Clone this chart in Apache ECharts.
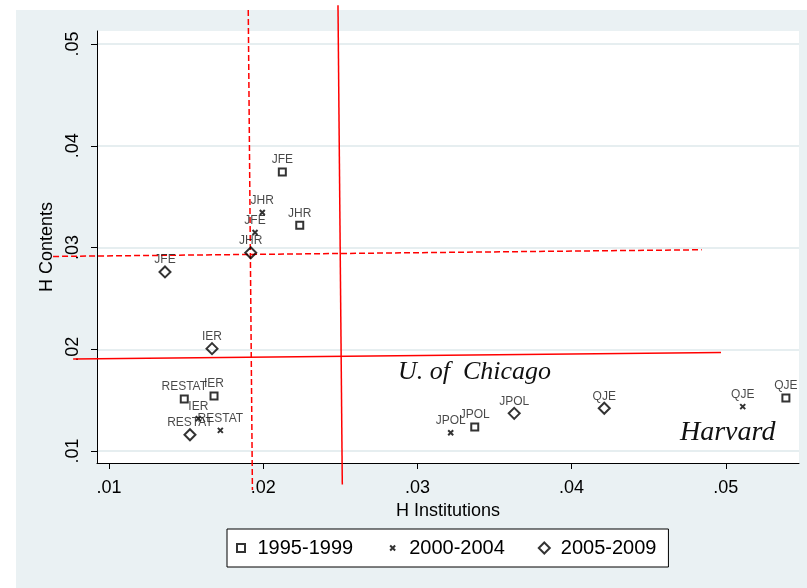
<!DOCTYPE html>
<html>
<head>
<meta charset="utf-8">
<script src="https://cdn.jsdelivr.net/npm/echarts/dist/echarts.min.js"></script>
<style>
  html, body { margin: 0; padding: 0; background: #fff; }
  #main { width: 807px; height: 588px; }
</style>
</head>
<body>
<div id="main"></div>
<script>
// journals, same order in every period
var journals = ['JFE', 'JHR', 'IER', 'RESTAT', 'JPOL', 'QJE'];

// H Institutions (x) and H Contents (y) per period
var hInst95 = [0.02124, 0.02237, 0.01681, 0.01488, 0.03372, 0.0539];
var hCont95 = [0.03741, 0.03219, 0.01541, 0.01511, 0.01236, 0.01521];
var hInst00 = [0.01947, 0.01994, 0.01579, 0.01722, 0.03216, 0.0511];
var hCont00 = [0.03147, 0.03344, 0.01318, 0.01203, 0.0118, 0.01436];
var hInst05 = [0.01363, 0.01919, 0.01668, 0.01525, 0.03628, 0.04212];
var hCont05 = [0.0276, 0.02948, 0.02006, 0.0116, 0.0137, 0.0142];

// reference lines (end points)
var instLine = [[0.02485, 0.0538], [0.02513, 0.0067]];
var contLine = [[0.00767, 0.01905], [0.04969, 0.01968]];
var instLineDash = [[0.01903, 0.05334], [0.0193, 0.00617]];
var contLineDash = [[0.00637, 0.02912], [0.04844, 0.02978]];

var xTicks = [0.01, 0.02, 0.03, 0.04, 0.05];
var yTicks = [0.01, 0.02, 0.03, 0.04, 0.05];
var periods = ['1995-1999', '2000-2004', '2005-2009'];

var FONT = '"Liberation Sans", Arial, Helvetica, sans-serif';

function pts(xs, ys) {
    return journals.map(function (j, i) {
        return { name: j, value: [xs[i], ys[i]] };
    });
}
function fmt(v) {
    return v.toFixed(2).replace(/^0/, '');
}
function seg(l, dashed) {
    return [l[0][0], l[0][1], l[1][0], l[1][1], dashed ? 1 : 0];
}

var pointLabel = {
    show: true,
    position: 'inside',
    offset: [0, -12],
    formatter: '{b}',
    fontFamily: FONT,
    fontSize: 12,
    color: '#1a1a1a'
};

var myChart = echarts.init(document.getElementById('main'));

var option = {
    animation: false,
    backgroundColor: '#eaf1f3',
    graphic: [
        { type: 'rect', shape: { x: 0, y: 0, width: 807, height: 10 }, style: { fill: '#fff' }, z: -1 },
        { type: 'rect', shape: { x: 0, y: 0, width: 16, height: 588 }, style: { fill: '#fff' }, z: -1 },
        {
            type: 'text', x: 398, y: 372, z: 5,
            style: { text: 'U. of  Chicago', font: 'italic 26px "Liberation Serif", "Times New Roman", serif', fill: '#111', verticalAlign: 'middle' }
        },
        {
            type: 'text', x: 680, y: 433, z: 5,
            style: { text: 'Harvard', font: 'italic 28px "Liberation Serif", "Times New Roman", serif', fill: '#111', verticalAlign: 'middle' }
        }
    ],
    grid: {
        left: 97, right: 8, top: 31, bottom: 125,
        show: true, backgroundColor: '#fff', borderWidth: 0
    },
    legend: {
        left: 227, top: 529,
        orient: 'horizontal',
        backgroundColor: '#fff',
        borderColor: '#000',
        borderWidth: 1,
        borderRadius: 0,
        padding: [9, 12, 9, 7.5],
        itemGap: 33,
        itemWidth: 17,
        itemHeight: 11,
        selectedMode: false,
        textStyle: { fontFamily: FONT, fontSize: 20, color: '#000' },
        data: [
            { name: periods[0], icon: 'path://M0,0M17,11M1.5,1.5H9.5V9.5H1.5Z' },
            { name: periods[1], icon: 'path://M0,0M17,11M3,3L8,8M8,3L3,8' },
            { name: periods[2], icon: 'path://M0,0M17,11M5.5,0L11,5.5L5.5,11L0,5.5Z' }
        ]
    },
    xAxis: {
        type: 'value',
        min: 0.00922,
        max: 0.05475,
        name: 'H Institutions',
        nameLocation: 'middle',
        nameGap: 37,
        nameTextStyle: { fontFamily: FONT, fontSize: 18, color: '#000' },
        axisLine: { onZero: false, lineStyle: { color: '#000', width: 1 } },
        axisTick: { length: 6, customValues: xTicks, lineStyle: { color: '#000' } },
        axisLabel: { customValues: xTicks, margin: 16, fontFamily: FONT, fontSize: 18, color: '#000', formatter: fmt },
        splitLine: { show: false }
    },
    yAxis: {
        type: 'value',
        min: 0.00882,
        max: 0.05128,
        name: 'H Contents',
        nameLocation: 'middle',
        nameGap: 34,
        nameTextStyle: { fontFamily: FONT, fontSize: 18, color: '#000' },
        axisLine: { onZero: false, lineStyle: { color: '#000', width: 1 } },
        axisTick: { length: 6, customValues: yTicks, lineStyle: { color: '#000' } },
        axisLabel: { customValues: yTicks, rotate: 90, margin: 15, fontFamily: FONT, fontSize: 18, color: '#000', formatter: fmt },
        splitLine: { show: true, lineStyle: { color: '#e6eef0', width: 2 } }
    },
    series: [
        {
            type: 'custom',
            silent: true,
            clip: false,
            z: 3,
            encode: { x: [0, 2], y: [1, 3] },
            data: [seg(instLine, false), seg(contLine, false), seg(instLineDash, true), seg(contLineDash, true)],
            renderItem: function (params, api) {
                var p1 = api.coord([api.value(0), api.value(1)]);
                var p2 = api.coord([api.value(2), api.value(3)]);
                return {
                    type: 'line',
                    shape: { x1: p1[0], y1: p1[1], x2: p2[0], y2: p2[1] },
                    style: { stroke: '#ff0000', lineWidth: 1.5, lineDash: api.value(4) ? [6, 3] : null }
                };
            }
        },
        {
            name: periods[0],
            type: 'scatter',
            symbol: 'rect',
            symbolSize: 7,
            itemStyle: { color: 'rgba(0,0,0,0)', borderColor: '#000', borderWidth: 2 },
            label: pointLabel,
            z: 4,
            data: pts(hInst95, hCont95)
        },
        {
            name: periods[1],
            type: 'scatter',
            symbol: 'path://M0,0L10,10M10,0L0,10',
            symbolSize: 5,
            itemStyle: { color: 'rgba(0,0,0,0)', borderColor: '#000', borderWidth: 2 },
            label: pointLabel,
            z: 4,
            data: pts(hInst00, hCont00)
        },
        {
            name: periods[2],
            type: 'scatter',
            symbol: 'diamond',
            symbolSize: 11,
            itemStyle: { color: 'rgba(0,0,0,0)', borderColor: '#000', borderWidth: 2 },
            label: pointLabel,
            z: 4,
            data: pts(hInst05, hCont05)
        }
    ]
};

myChart.setOption(option);
</script>
</body>
</html>
